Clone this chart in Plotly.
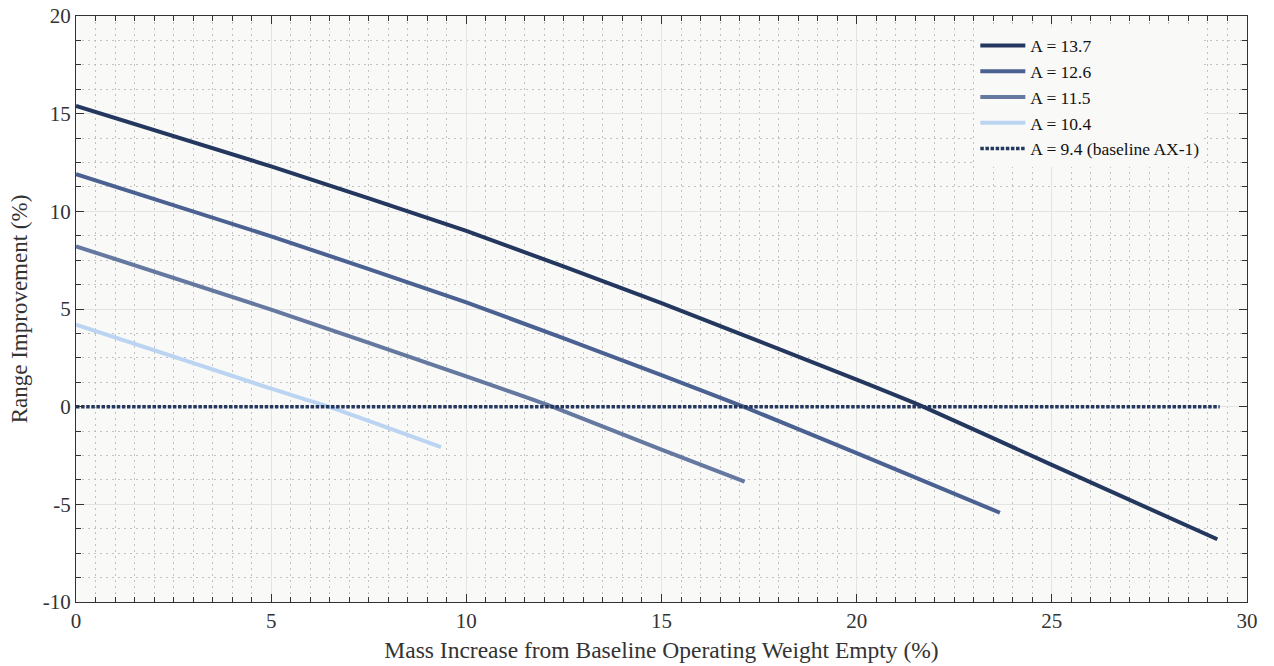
import plotly.graph_objects as go

# Range improvement vs. mass increase for several wing aspect ratios
mass_137 = [0, 5, 10, 15, 20, 21.7, 25, 29.24]
range_137 = [15.4, 12.3, 9.0, 5.3, 1.38, 0.0, -2.98, -6.79]

mass_126 = [0, 5, 10, 15, 17.1, 20, 23.67]
range_126 = [11.9, 8.72, 5.34, 1.62, 0.0, -2.38, -5.43]

mass_115 = [0, 5, 10, 12.2, 15, 17.13]
range_115 = [8.21, 4.97, 1.55, 0.0, -2.2, -3.84]

mass_104 = [0, 5, 6.47, 9.35]
range_104 = [4.2, 0.92, 0.0, -2.07]

mass_base = [0, 29.3]
range_base = [0, 0]

series_names = ["A = 13.7", "A = 12.6", "A = 11.5", "A = 10.4", "A = 9.4 (baseline AX-1)"]
series_colors = ["#24375e", "#4a6191", "#6478a0", "#bad4f1", "#24375e"]

x_tickvals = [0, 5, 10, 15, 20, 25, 30]
x_ticktext = ["0", "5", "10", "15", "20", "25", "30"]
y_tickvals = [-10, -5, 0, 5, 10, 15, 20]
y_ticktext = ["-10", "-5", "0", "5", "10", "15", "20"]

fig = go.Figure()
data = [(mass_137, range_137), (mass_126, range_126), (mass_115, range_115),
        (mass_104, range_104), (mass_base, range_base)]
for i, (xs, ys) in enumerate(data):
    solid = i < 4
    fig.add_trace(go.Scatter(
        x=xs, y=ys, mode="lines", name=series_names[i],
        line=dict(color=series_colors[i], width=4 if solid else 3.5,
                  dash="solid" if solid else "3.5px,1.6px",
                  shape="spline" if solid else "linear", smoothing=0.5),
    ))

font_family = "Liberation Serif, Times New Roman, serif"
axis_common = dict(
    showline=True, linecolor="#333333", linewidth=1.3, mirror="allticks",
    ticks="inside", ticklen=8, tickcolor="#333333", tickwidth=1,
    showgrid=True, gridcolor="#e4e4e4", gridwidth=1.3,
    zeroline=False, automargin=False,
    tickfont=dict(family=font_family, size=21, color="#333333"),
)

fig.update_layout(
    width=1274, height=666,
    margin=dict(l=76, r=27, t=16, b=64),
    paper_bgcolor="white", plot_bgcolor="#f9f9f8",
    font=dict(family=font_family, color="#222222"),
    showlegend=True,
    legend=dict(x=0.768, y=0.98, xanchor="left", yanchor="top",
                bgcolor="#f9f9f8", borderwidth=0,
                font=dict(family=font_family, size=17.5, color="#111111"),
                tracegroupgap=0, itemwidth=45),
)
fig.update_xaxes(
    range=[0, 30], tickvals=x_tickvals, ticktext=x_ticktext,
    title=dict(text="Mass Increase from Baseline Operating Weight Empty (%)",
               font=dict(family=font_family, size=23.5, color="#333333"), standoff=9),
    minor=dict(dtick=0.5, ticks="inside", ticklen=5, tickcolor="#333333",
               showgrid=True, gridcolor="#c2c2c2", griddash="2px,4px", gridwidth=1),
    **axis_common,
)
fig.update_yaxes(
    range=[-10, 20], tickvals=y_tickvals, ticktext=y_ticktext,
    title=dict(text="Range Improvement (%)",
               font=dict(family=font_family, size=23, color="#333333"), standoff=8),
    minor=dict(dtick=1.25, ticks="inside", ticklen=5, tickcolor="#333333",
               showgrid=True, gridcolor="#c2c2c2", griddash="2px,4px", gridwidth=1),
    **axis_common,
)

fig.write_html("out.html")
